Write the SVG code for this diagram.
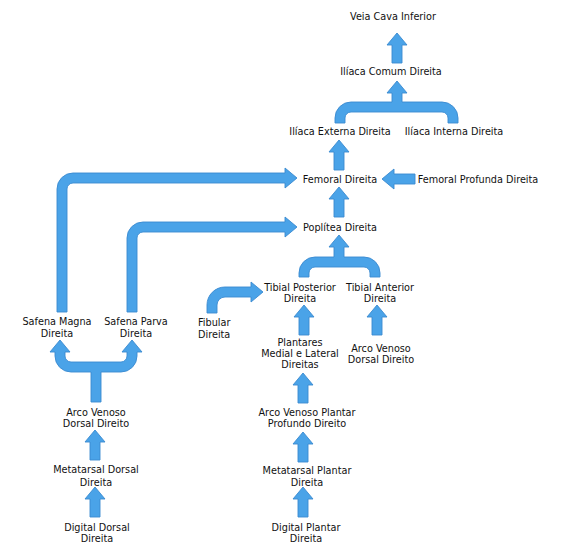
<svg xmlns="http://www.w3.org/2000/svg" xmlns:xlink="http://www.w3.org/1999/xlink" width="562" height="553" viewBox="0 0 562 553">
<style>
  text { font-family: "DejaVu Sans", "Liberation Sans", sans-serif; font-size: 9.7px; fill: #111; text-anchor: middle; }
  .l { text-anchor: start; }
  .arrow { fill: #4aa3e8; stroke: #3a8ad0; stroke-width: 0.9; stroke-linejoin: miter; }
</style>
<defs>
  <path id="up" d="M0,0 L10,12 L5,12 L5,30 L-5,30 L-5,12 L-10,12 Z"/>
</defs>
<rect width="562" height="553" fill="#ffffff"/>

<g id="connectors" class="arrow">
  <use xlink:href="#up" href="#up" x="397" y="33"/>
  <path d="M397,81 L407,93 L402,93 L402,102 L442,102 A16,16 0 0 1 458,118 L458,123 L448,123 L448,118 A6,6 0 0 0 442,112 L351,112 A6,6 0 0 0 345,118 L345,123 L335,123 L335,118 A16,16 0 0 1 351,102 L392,102 L392,93 L387,93 Z"/>
  <use xlink:href="#up" href="#up" x="339" y="140"/>
  <path d="M382,179 L394,169 L394,174 L415,174 L415,184 L394,184 L394,189 Z"/>
  <use xlink:href="#up" href="#up" x="339" y="187"/>
  <path d="M57,312 L57,189 A16,16 0 0 1 73,173 L285,173 L285,168 L297,178 L285,188 L285,183 L73,183 A6,6 0 0 0 67,189 L67,312 Z"/>
  <path d="M127,312 L127,238 A16,16 0 0 1 143,222 L285,222 L285,217 L297,227 L285,237 L285,232 L143,232 A6,6 0 0 0 137,238 L137,312 Z"/>
  <path d="M339,235 L349,247 L344,247 L344,257 L364,257 A16,16 0 0 1 380,273 L380,277 L370,277 L370,273 A6,6 0 0 0 364,267 L315,267 A6,6 0 0 0 309,273 L309,277 L299,277 L299,273 A16,16 0 0 1 315,257 L334,257 L334,247 L329,247 Z"/>
  <path d="M207,313 L207,305 A18,18 0 0 1 225,287 L251,287 L251,282 L263,292 L251,302 L251,297 L225,297 A8,8 0 0 0 217,305 L217,313 Z"/>
  <use xlink:href="#up" href="#up" x="304" y="305"/>
  <use xlink:href="#up" href="#up" x="377" y="305"/>
  <use xlink:href="#up" href="#up" x="303" y="373"/>
  <use xlink:href="#up" href="#up" x="303" y="432"/>
  <use xlink:href="#up" href="#up" x="303" y="487"/>
  <path d="M60,340 L70,352 L65,352 L65,356 A6,6 0 0 0 71,362 L121,362 A6,6 0 0 0 127,356 L127,352 L122,352 L132,340 L142,352 L137,352 L137,356 A16,16 0 0 1 121,372 L101,372 L101,402 L91,402 L91,372 L71,372 A16,16 0 0 1 55,356 L55,352 L50,352 Z"/>
  <use xlink:href="#up" href="#up" x="95" y="430"/>
  <use xlink:href="#up" href="#up" x="95" y="487"/>
</g>

<g id="veia-cava-inferior"><text x="393" y="20">Veia Cava Inferior</text></g>
<g id="iliaca-comum"><text x="391" y="75">Ilíaca Comum Direita</text></g>
<g id="iliaca-externa"><text x="340" y="135">Ilíaca Externa Direita</text></g>
<g id="iliaca-interna"><text x="454" y="135">Ilíaca Interna Direita</text></g>
<g id="femoral"><text x="340" y="183">Femoral Direita</text></g>
<g id="femoral-profunda"><text x="478" y="183">Femoral Profunda Direita</text></g>
<g id="poplitea"><text x="340" y="231">Poplítea Direita</text></g>
<g id="tibial-posterior"><text x="300" y="291">Tibial Posterior</text><text x="300" y="302">Direita</text></g>
<g id="tibial-anterior"><text x="380" y="291">Tibial Anterior</text><text x="380" y="302">Direita</text></g>
<g id="fibular"><text class="l" x="198" y="326">Fibular</text><text class="l" x="198" y="338">Direita</text></g>
<g id="plantares"><text x="300" y="346">Plantares</text><text x="300" y="357">Medial e Lateral</text><text x="300" y="368">Direitas</text></g>
<g id="arco-venoso-dorsal-dir"><text x="381" y="352">Arco Venoso</text><text x="381" y="363">Dorsal Direito</text></g>
<g id="arco-venoso-plantar"><text x="307" y="416">Arco Venoso Plantar</text><text x="307" y="427">Profundo Direito</text></g>
<g id="metatarsal-plantar"><text x="307" y="474">Metatarsal Plantar</text><text x="307" y="486">Direita</text></g>
<g id="digital-plantar"><text x="306" y="531">Digital Plantar</text><text x="306" y="542">Direita</text></g>
<g id="safena-magna"><text x="57" y="325">Safena Magna</text><text x="57" y="337">Direita</text></g>
<g id="safena-parva"><text x="136" y="325">Safena Parva</text><text x="136" y="337">Direita</text></g>
<g id="arco-venoso-dorsal-esq"><text x="96" y="416">Arco Venoso</text><text x="96" y="427">Dorsal Direito</text></g>
<g id="metatarsal-dorsal"><text x="96" y="473">Metatarsal Dorsal</text><text x="96" y="486">Direita</text></g>
<g id="digital-dorsal"><text x="97" y="531">Digital Dorsal</text><text x="97" y="542">Direita</text></g>
</svg>
